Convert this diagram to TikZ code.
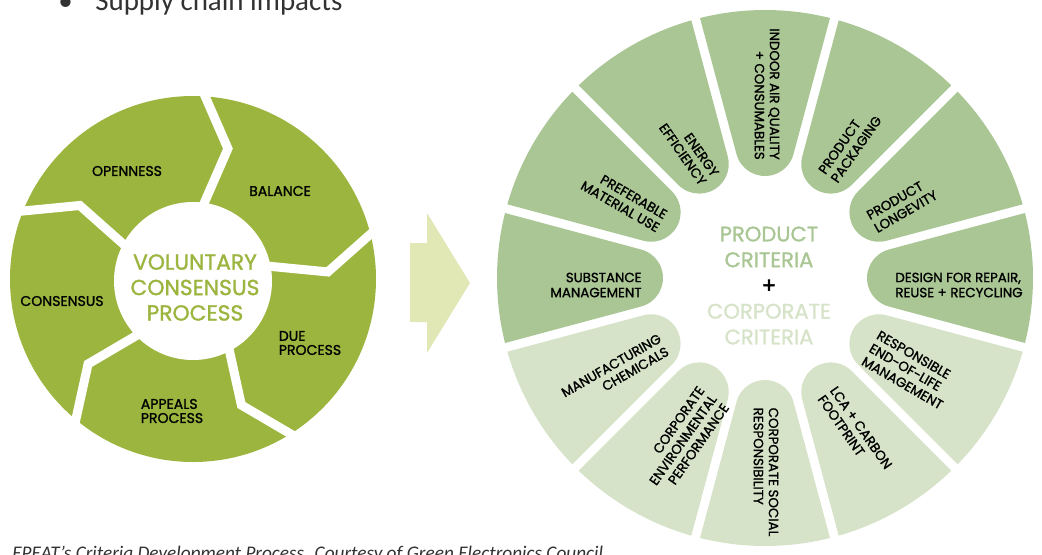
\documentclass[tikz,border=0pt]{standalone}
\usepackage{fontspec}
\newfontfamily\wheelfont[FakeBold=1.3]{Poppins}
\newfontfamily\plusfont[FakeBold=3]{Poppins}
\newfontfamily\slidefont{Carlito}
\definecolor{vcpgreen}{RGB}{155,181,63}
\definecolor{prodgreen}{RGB}{169,198,148}
\definecolor{corpgreen}{RGB}{214,227,200}
\definecolor{arrowgreen}{RGB}{225,232,182}
\definecolor{slidegray}{RGB}{50,50,50}
% one rounded spoke of the criteria wheel, #1 = angle, #2 = colour
\def\PETAL#1#2{\fill[#2,rotate=#1] (123.87,-28.5) -- (-14.04:268) arc[start angle=-14.04,end angle=14.04,radius=268] -- (123.87,28.5) arc[start angle=105,end angle=255,radius=29.5] -- cycle;}

\begin{document}
\begin{tikzpicture}[x=0.025cm,y=0.025cm,
  lbl/.style={font=\wheelfont\fontsize{10}{10}\selectfont,align=center,inner sep=0pt},
  spoke/.style={font=\wheelfont\fontsize{9.5}{10.7}\selectfont,inner sep=0pt},
  cutline/.style={draw=white,line width=6.4pt}]
  \useasboundingbox (0,0) rectangle (1042,-554);
  \clip (0,0) rectangle (1042,-554);

  % slide text, cut by the frame
  \node[anchor=base west,inner sep=0pt,text=slidegray,font=\slidefont\fontsize{20.6}{24}\selectfont] (bul) at (58,-10) {\textbullet};
  \node[anchor=base west,inner sep=0pt,text=slidegray,font=\slidefont\fontsize{20.6}{24}\selectfont] (supply) at (95,-10) {Supply chain impacts};
  \node[anchor=base west,inner sep=0pt,text=slidegray,font=\slidefont\itshape\fontsize{13.7}{15}\selectfont] (caption) at (12,-559) {EPEAT’s Criteria Development Process. Courtesy of Green Electronics Council};

  % voluntary consensus wheel
  \begin{scope}[shift={(193,-279)}]
    \fill[vcpgreen] (0,0) circle (183);
    \foreach \t in {88,16,-56,-128,160}
      \draw[cutline] (\t:195) -- (\t-13:135) -- (\t-2:60);
    \fill[white] (0,-2) circle (79);
  \end{scope}
  \node[lbl] (open) at (127,-171) {OPENNESS};
  \node[lbl] (bal) at (280,-191) {BALANCE};
  \node[lbl] (cons) at (62,-301) {CONSENSUS};
  \node[lbl,align=left] (due) at (310,-343) {DUE\\PROCESS};
  \node[lbl,align=left] (app) at (172,-411) {APPEALS\\PROCESS};
  \node[lbl,text=vcpgreen,font=\wheelfont\fontsize{15.5}{18.1}\selectfont] (vcp) at (195,-287.5) {VOLUNTARY\\CONSENSUS\\PROCESS};

  % arrow
  \fill[arrowgreen] (410,-243) -- (427,-243) -- (427,-213) -- (470,-283) -- (427,-353) -- (427,-322) -- (410,-322) -- cycle;

  % criteria wheel
  \begin{scope}[shift={(765,-278)}]
    \foreach \a/\c in {90/prodgreen,60/prodgreen,30/prodgreen,0/prodgreen,-30/corpgreen,-60/corpgreen,-90/corpgreen,-120/corpgreen,-150/corpgreen,180/prodgreen,150/prodgreen,120/prodgreen}
      {\PETAL{\a}{\c}}
  \end{scope}
  \node[spoke,rotate=-90,align=right] (iaq) at (767,-94) {INDOOR AIR QUALITY\\+ CONSUMABLES};
  \node[spoke,rotate=55,align=left] (pack) at (850,-145) {PRODUCT\\PACKAGING};
  \node[spoke,rotate=30,align=left] (long) at (902,-205) {PRODUCT\\LONGEVITY};
  \node[spoke,align=left] (dfr) at (959,-285) {DESIGN FOR REPAIR,\\REUSE + RECYCLING};
  \node[spoke,rotate=-30,align=left] (eol) at (910,-370) {RESPONSIBLE\\END-OF-LIFE\\MANAGEMENT};
  \node[spoke,rotate=-55,align=left] (lca) at (855,-432) {LCA + CARBON\\FOOTPRINT};
  \node[spoke,rotate=-90,align=left] (csr) at (766,-472) {CORPORATE SOCIAL\\RESPONSIBILITY};
  \node[spoke,rotate=55,align=right] (cep) at (683,-440) {CORPORATE\\ENVIRONMENTAL\\PERFORMANCE};
  \node[spoke,rotate=30,align=right] (mfc) at (615,-372) {MANUFACTURING\\CHEMICALS};
  \node[spoke,align=right] (sub) at (596,-285) {SUBSTANCE\\MANAGEMENT};
  \node[spoke,rotate=-30,align=right] (pmu) at (624,-200) {PREFERABLE\\MATERIAL USE};
  \node[spoke,rotate=-55,align=right] (ee) at (689,-150) {ENERGY\\EFFICIENCY};
  \node[align=center,inner sep=0pt,font=\wheelfont\fontsize{15}{18.3}\selectfont] (crit) at (769,-285.5)
    {\textcolor{prodgreen}{PRODUCT}\\\textcolor{prodgreen}{CRITERIA}\\{\plusfont +}\\\textcolor{corpgreen}{CORPORATE}\\\textcolor{corpgreen}{CRITERIA}};
\end{tikzpicture}
\end{document}
